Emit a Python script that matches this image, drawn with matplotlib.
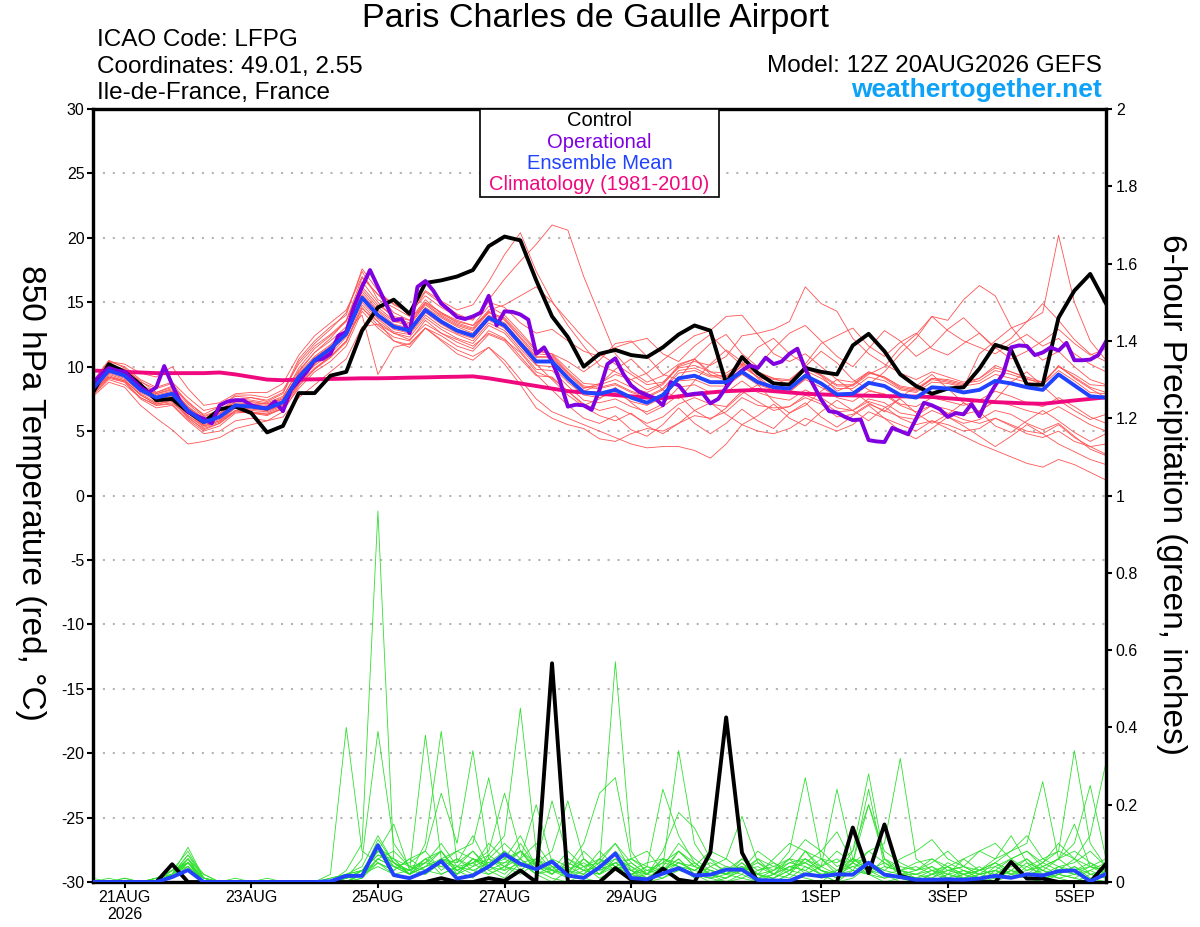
import matplotlib
matplotlib.use("Agg")
import matplotlib.pyplot as plt
from matplotlib.patches import Rectangle
import numpy as np

plt.rcParams['font.family'] = ['Liberation Sans', 'DejaVu Sans']

# forecast starts 12Z 20AUG2026, ensemble every 6 h, operational every 3 h
tick_hours = [12, 60, 108, 156, 204, 276, 324, 372]
tick_labels = ['21AUG\n2026', '23AUG', '25AUG', '27AUG', '29AUG', '1SEP', '3SEP', '5SEP']
temp_ticks = list(range(-30, 31, 5))
prcp_ticks = [0, 0.2, 0.4, 0.6, 0.8, 1, 1.2, 1.4, 1.6, 1.8, 2]
prcp_labels = ['0', '0.2', '0.4', '0.6', '0.8', '1', '1.2', '1.4', '1.6', '1.8', '2']

# 850 hPa temperature (C)
ctrl_temp = [8.0, 10.2, 9.6, 8.6, 7.4, 7.5, 6.5, 5.7, 6.7, 6.9,
             6.4, 4.9, 5.4, 7.95, 7.95, 9.3, 9.6, 12.8, 14.6, 15.2,
             14.1, 16.5, 16.7, 17.0, 17.5, 19.35, 20.1, 19.8, 16.7, 13.9,
             12.3, 10.0, 11.0, 11.3, 10.9, 10.75, 11.5, 12.5, 13.2, 12.8,
             8.7, 10.75, 9.5, 8.7, 8.6, 9.9, 9.6, 9.4, 11.65, 12.55,
             11.2, 9.4, 8.5, 7.9, 8.3, 8.4, 9.85, 11.7, 11.3, 8.6,
             8.6, 13.8, 15.9, 17.2, 14.9]

mean_temp = [8.3, 9.7, 9.3, 8.2, 7.6, 7.9, 6.6, 5.7, 6.1, 7.0,
             6.9, 6.75, 7.25, 9.2, 10.5, 11.4, 12.55, 15.35, 14.0, 13.1,
             12.8, 14.4, 13.5, 12.8, 12.4, 13.8, 13.2, 11.8, 10.4, 10.4,
             9.1, 8.0, 7.9, 8.2, 7.6, 7.2, 7.8, 9.1, 9.3, 8.8,
             8.8, 9.6, 8.8, 8.4, 8.3, 9.3, 8.7, 7.85, 7.9, 8.75,
             8.5, 7.8, 7.6, 8.4, 8.3, 8.0, 8.2, 8.9, 8.7, 8.4,
             8.2, 9.4, 8.55, 7.7, 7.6]

clim_temp = [9.7, 9.65, 9.6, 9.55, 9.5, 9.5, 9.5, 9.5, 9.55, 9.4,
             9.2, 9.0, 8.95, 9.0, 9.02, 9.05, 9.07, 9.1, 9.1, 9.12,
             9.15, 9.17, 9.2, 9.22, 9.25, 9.1, 8.9, 8.7, 8.5, 8.3,
             8.1, 8.0, 7.9, 7.8, 7.7, 7.6, 7.55, 7.7, 7.85, 8.0,
             8.1, 8.15, 8.2, 8.1, 8.0, 7.9, 7.85, 7.8, 7.77, 7.75,
             7.72, 7.7, 7.68, 7.65, 7.55, 7.45, 7.35, 7.25, 7.2, 7.15,
             7.12, 7.25, 7.38, 7.5, 7.62]

oper_temp = [8.7, 9.4, 9.9, 9.7, 9.6, 9.0, 8.4, 8.0, 8.4, 10.05,
             8.6, 7.3, 6.5, 6.2, 5.95, 5.6, 7.0, 7.3, 7.4, 7.4,
             7.0, 6.85, 6.75, 7.3, 6.55, 8.2, 8.9, 9.6, 10.5, 10.6,
             11.0, 12.4, 12.7, 14.7, 16.2, 17.5, 16.2, 14.9, 13.6, 13.7,
             12.6, 16.2, 16.65, 15.9, 14.9, 14.4, 13.85, 13.7, 13.9, 14.2,
             15.5, 13.2, 14.3, 14.25, 14.05, 13.65, 11.0, 11.5, 10.4, 8.9,
             6.9, 7.05, 7.0, 6.65, 8.2, 10.2, 10.65, 9.45, 8.55, 8.05,
             7.8, 7.55, 7.0, 8.8, 8.55, 7.8, 7.9, 7.95, 7.15, 7.5,
             8.4, 9.2, 9.7, 10.1, 9.9, 10.7, 10.2, 10.4, 11.0, 11.4,
             9.8, 8.6, 7.45, 6.55, 6.45, 6.1, 5.85, 5.9, 4.3, 4.2,
             4.15, 5.25, 5.0, 4.75, 5.95, 7.2, 7.0, 6.7, 6.1, 6.4,
             6.3, 7.1, 6.15, 7.5, 8.55, 9.45, 11.5, 11.65, 11.6, 10.9,
             11.1, 11.5, 11.25, 11.85, 10.5, 10.5, 10.55, 10.9, 11.95]

member_temp = [
    [8.6, 10.2, 9.8, 8.9, 8.0, 8.4, 7.3, 6.2, 6.6, 7.4, 7.6, 7.3, 7.9,
     10.4, 11.8, 12.9, 14.2, 17.4, 15.2, 14.6, 13.9, 15.8, 14.9, 14.1, 13.6, 15.2,
     16.8, 18.2, 19.5, 21.0, 20.6, 17.0, 14.0, 11.0, 9.6, 8.8, 9.3, 10.2, 10.6,
     9.4, 8.9, 10.1, 9.2, 8.3, 8.0, 9.1, 8.7, 7.6, 7.3, 8.1, 7.9, 7.1,
     6.9, 7.6, 7.3, 7.0, 7.4, 8.1, 7.7, 7.2, 6.9, 7.6, 6.9, 6.1, 5.6],
    [7.9, 9.4, 9.0, 7.8, 7.1, 7.3, 6.1, 5.1, 5.6, 6.6, 6.8, 6.6, 7.1,
     9.6, 11.1, 12.2, 13.6, 16.9, 15.6, 14.9, 14.2, 15.9, 15.1, 14.4, 14.8, 16.6,
     18.7, 20.4, 17.4, 15.1, 13.2, 11.6, 10.1, 9.6, 9.0, 8.2, 8.7, 10.1, 10.6,
     9.6, 9.1, 10.6, 9.6, 9.1, 8.6, 10.1, 9.3, 8.1, 8.6, 9.6, 9.1, 8.3,
     8.1, 9.1, 8.9, 8.6, 9.1, 10.1, 9.6, 9.1, 8.6, 10.1, 9.1, 8.3, 7.6],
    [7.7, 8.8, 8.4, 7.0, 6.0, 5.1, 4.0, 4.2, 4.5, 5.2, 5.5, 5.8, 6.1,
     7.6, 8.6, 9.6, 10.6, 13.1, 13.3, 12.6, 12.1, 13.3, 12.6, 12.1, 11.6, 12.6,
     12.1, 11.1, 9.6, 9.1, 8.1, 7.1, 6.6, 6.9, 6.3, 5.6, 6.1, 7.1, 7.6,
     7.1, 6.9, 8.1, 7.3, 6.6, 6.9, 7.6, 7.1, 6.1, 6.3, 7.1, 6.6, 6.1,
     5.9, 6.6, 6.1, 5.6, 5.9, 6.6, 6.3, 5.6, 5.1, 5.6, 4.6, 3.6, 3.1],
    [8.2, 9.2, 8.8, 7.5, 6.8, 7.0, 5.8, 4.8, 5.0, 5.8, 6.0, 5.8, 6.5,
     8.5, 9.8, 10.8, 12.0, 14.5, 13.5, 12.0, 11.5, 13.0, 12.0, 11.0, 10.5, 11.5,
     10.5, 9.0, 7.5, 6.5, 6.0, 5.5, 5.0, 4.5, 4.0, 3.7, 3.8, 3.8, 3.5,
     2.9, 4.0, 5.5, 5.0, 4.8, 5.2, 6.0, 5.5, 5.0, 5.5, 6.5, 6.0, 5.5,
     5.0, 5.8, 5.5, 5.0, 5.2, 6.0, 5.5, 5.0, 4.8, 5.5, 4.5, 3.8, 3.2],
    [8.4, 9.9, 9.5, 8.4, 7.8, 8.1, 6.9, 5.9, 6.3, 7.2, 7.1, 7.0, 7.5,
     9.5, 10.8, 11.7, 12.9, 15.8, 14.4, 13.5, 13.2, 14.8, 13.9, 13.2, 12.8, 14.2,
     13.6, 12.2, 10.8, 10.8, 9.5, 8.4, 8.3, 8.6, 8.0, 7.6, 8.2, 9.5, 9.7,
     9.2, 9.2, 10.0, 9.2, 8.8, 8.7, 9.7, 9.1, 8.3, 8.3, 9.2, 8.9, 8.2,
     8.0, 8.8, 8.7, 8.4, 11.0, 12.0, 13.0, 13.5, 14.2, 20.2, 15.0, 12.0, 10.5],
    [8.8, 10.4, 10.0, 9.0, 8.4, 8.8, 7.6, 6.6, 6.9, 7.8, 7.8, 7.6, 8.2,
     10.2, 11.6, 12.5, 13.6, 16.2, 14.8, 13.9, 13.6, 15.2, 14.1, 13.5, 13.2, 14.7,
     14.0, 12.7, 11.3, 11.0, 9.8, 8.7, 8.6, 9.0, 8.4, 8.0, 8.6, 10.0, 10.4,
     10.1, 10.8, 12.4, 12.6, 12.9, 13.5, 16.2, 14.9, 14.3, 12.2, 11.0, 10.2, 9.5,
     9.0, 9.6, 9.2, 8.8, 9.1, 9.9, 9.6, 9.2, 8.8, 10.0, 9.2, 8.4, 8.0],
    [8.0, 9.6, 9.3, 8.3, 7.5, 7.7, 6.4, 5.5, 5.9, 6.8, 6.7, 6.6, 7.0,
     8.9, 10.1, 11.0, 12.3, 15.0, 13.7, 12.7, 12.5, 14.0, 13.1, 12.5, 12.0, 13.4,
     12.8, 11.4, 10.1, 10.0, 8.8, 7.8, 7.6, 8.0, 7.3, 7.0, 7.6, 8.9, 9.0,
     8.5, 8.5, 9.4, 8.6, 8.2, 8.1, 9.0, 8.4, 7.7, 7.7, 8.6, 9.6, 11.0,
     12.2, 13.9, 13.6, 15.2, 16.3, 15.5, 13.1, 11.6, 10.5, 11.2, 10.0, 9.0, 8.6],
    [8.0, 9.3, 8.9, 7.9, 7.2, 7.5, 6.2, 5.3, 5.7, 6.6, 6.4, 6.3, 6.8,
     8.7, 9.9, 10.8, 12.0, 14.8, 13.5, 12.6, 12.3, 13.8, 12.9, 12.2, 11.8, 13.2,
     12.6, 11.2, 9.8, 9.7, 8.5, 7.4, 7.2, 7.5, 6.9, 6.5, 7.1, 8.4, 8.6,
     8.0, 8.0, 8.9, 8.0, 7.6, 7.4, 8.2, 7.6, 6.8, 6.6, 7.3, 6.9, 6.0,
     5.5, 5.8, 5.2, 4.6, 4.0, 3.5, 3.0, 2.5, 2.2, 2.8, 2.4, 1.8, 1.2],
    [8.5, 9.9, 9.4, 8.4, 7.9, 8.2, 6.8, 5.9, 6.4, 7.3, 7.2, 7.1, 7.5,
     9.4, 10.7, 11.6, 12.8, 15.6, 14.3, 13.3, 13.0, 14.6, 13.8, 13.1, 12.6, 14.0,
     13.4, 12.0, 10.7, 10.7, 9.4, 8.3, 8.7, 9.4, 9.0, 9.5, 10.5, 11.5, 12.4,
     12.8, 13.9, 14.0, 12.5, 11.0, 10.4, 11.0, 10.0, 9.0, 8.8, 9.6, 9.2, 8.4,
     8.2, 9.0, 8.8, 8.5, 8.7, 9.4, 9.1, 8.8, 8.6, 9.7, 8.9, 8.0, 7.9],
    [7.9, 9.1, 8.8, 7.6, 7.0, 7.1, 5.9, 5.0, 5.4, 6.4, 6.5, 6.3, 6.7,
     8.3, 9.6, 10.4, 11.6, 14.3, 13.0, 12.0, 11.7, 13.0, 12.1, 11.3, 10.8, 11.5,
     10.2, 8.6, 6.8, 6.0, 5.5, 5.2, 4.4, 4.2, 4.8, 5.2, 5.0, 5.6, 6.2,
     6.0, 6.5, 7.6, 7.0, 6.8, 6.9, 7.8, 7.3, 6.5, 6.6, 7.5, 7.2, 6.4,
     6.2, 7.0, 6.7, 6.3, 6.6, 7.3, 7.0, 6.6, 6.3, 6.9, 6.2, 5.5, 5.0],
    [8.9, 10.5, 9.9, 8.8, 8.3, 8.7, 7.2, 6.3, 6.9, 7.7, 7.6, 7.4, 8.0,
     10.6, 12.0, 13.1, 14.0, 17.6, 15.9, 14.8, 14.2, 15.5, 14.6, 13.9, 13.7, 15.0,
     14.6, 13.4, 12.6, 12.9, 12.0, 11.2, 10.8, 11.5, 11.9, 12.2, 11.0, 10.4, 11.6,
     12.5, 11.2, 10.1, 11.5, 12.2, 11.0, 10.2, 11.8, 12.4, 13.0, 11.6, 10.8, 11.9,
     12.6, 11.4, 10.9, 11.8, 12.6, 11.5, 10.6, 11.2, 12.0, 12.9, 11.8, 10.9, 11.4],
    [8.1, 9.5, 9.1, 8.0, 7.4, 7.6, 6.4, 5.4, 5.8, 6.8, 6.6, 6.5, 7.0,
     9.0, 10.3, 11.2, 12.5, 15.2, 13.8, 12.9, 12.6, 14.2, 13.3, 12.6, 12.2, 13.6,
     13.0, 11.6, 10.2, 9.0, 7.8, 6.9, 6.2, 5.8, 6.4, 5.4, 4.8, 5.6, 6.6,
     7.2, 6.3, 5.5, 6.2, 7.1, 6.0, 5.4, 6.5, 7.4, 6.6, 5.8, 6.8, 7.5,
     6.4, 5.6, 6.3, 7.2, 6.5, 5.4, 4.9, 5.8, 6.6, 5.8, 4.9, 4.2, 4.8],
    [8.3, 9.8, 9.4, 8.3, 7.7, 8.0, 6.7, 5.8, 6.2, 7.1, 7.0, 6.9, 7.4,
     9.3, 10.6, 11.5, 12.7, 15.5, 14.1, 13.2, 12.9, 14.5, 13.6, 12.9, 12.5, 13.9,
     13.3, 11.9, 10.5, 10.5, 9.2, 8.1, 8.6, 9.8, 10.6, 9.4, 8.2, 7.5, 8.9,
     10.2, 11.3, 10.4, 9.1, 8.0, 8.8, 10.0, 11.2, 10.3, 9.0, 8.2, 7.8, 7.0,
     6.5, 7.0, 6.4, 5.9, 5.6, 6.0, 5.4, 4.8, 4.5, 5.0, 4.2, 3.8, 4.0],
    [8.5, 9.9, 9.6, 8.5, 7.9, 8.3, 6.9, 6.0, 6.4, 7.3, 7.3, 7.1, 7.6,
     9.9, 11.4, 12.4, 13.5, 16.6, 15.0, 13.8, 13.4, 15.0, 14.2, 13.4, 13.0, 14.4,
     14.8, 15.5, 16.2, 15.0, 13.6, 12.2, 11.0, 10.2, 9.4, 8.6, 8.8, 9.9, 10.1,
     9.6, 9.5, 10.3, 9.5, 9.1, 9.0, 10.0, 9.4, 8.6, 8.6, 9.5, 9.2, 8.5,
     8.3, 9.1, 9.0, 8.7, 8.9, 9.7, 9.4, 9.0, 8.8, 10.0, 9.4, 8.6, 8.5],
    [8.0, 9.2, 8.9, 7.8, 7.1, 7.4, 6.0, 5.2, 5.6, 6.5, 6.4, 6.2, 6.8,
     8.6, 9.8, 10.7, 11.9, 14.6, 13.2, 12.3, 12.0, 13.6, 12.6, 11.9, 11.4, 12.8,
     12.2, 10.8, 9.4, 8.2, 7.0, 6.0, 5.6, 6.2, 5.1, 4.6, 5.5, 6.8, 5.6,
     4.8, 5.6, 6.7, 5.8, 5.2, 6.4, 7.2, 6.1, 5.3, 6.2, 7.0, 6.0, 5.0,
     4.4, 5.2, 6.1, 5.4, 4.6, 3.8, 4.6, 5.5, 4.8, 4.0, 3.4, 2.8, 2.4],
    [8.7, 10.1, 9.7, 8.6, 8.0, 8.5, 7.1, 6.1, 6.6, 7.5, 7.4, 7.2, 7.7,
     9.7, 11.1, 12.0, 13.1, 16.0, 14.6, 13.6, 13.3, 14.9, 14.0, 13.3, 12.9, 14.3,
     13.7, 12.3, 11.0, 10.9, 9.6, 8.5, 8.4, 8.7, 8.1, 7.7, 8.3, 9.7, 9.9,
     9.3, 9.3, 10.2, 9.4, 9.0, 8.9, 9.9, 9.3, 8.5, 8.5, 9.4, 10.0, 11.5,
     12.5, 13.9, 12.8, 12.0, 11.5, 11.0, 11.8, 12.5, 11.6, 12.2, 11.0, 10.2, 9.6],
    [8.8, 10.4, 10.2, 9.5, 9.2, 10.0, 8.3, 7.0, 7.2, 7.9, 8.0, 8.0, 8.7,
     10.9, 12.4, 13.4, 14.4, 17.0, 15.6, 14.2, 13.6, 15.0, 14.2, 13.6, 13.2, 14.2,
     13.8, 12.5, 11.2, 11.0, 10.4, 9.6, 10.5, 11.8, 12.0, 10.8, 9.4, 9.0, 10.6,
     11.8, 12.5, 11.0, 10.0, 11.4, 12.6, 13.2, 12.0, 10.8, 10.0, 11.4, 12.8, 12.0,
     10.8, 11.6, 12.9, 13.8, 12.6, 11.4, 12.2, 13.5, 14.9, 13.6, 12.1, 11.0, 10.4],
    [7.8, 9.0, 8.6, 7.6, 7.0, 7.2, 6.2, 5.4, 5.8, 6.6, 6.4, 6.4, 6.9,
     8.8, 10.2, 11.3, 12.8, 14.0, 9.4, 11.5, 11.8, 13.0, 12.4, 11.6, 11.2, 12.5,
     12.0, 10.6, 9.3, 9.2, 8.1, 7.0, 7.5, 8.4, 7.2, 6.3, 6.9, 7.8, 6.6,
     5.9, 6.8, 7.9, 8.6, 7.3, 6.4, 7.0, 8.1, 9.0, 8.1, 7.2, 6.5, 7.6,
     8.5, 9.4, 8.3, 7.2, 6.5, 7.4, 8.8, 9.6, 8.5, 7.4, 6.6, 5.9, 6.3],
]

# 6-hour precipitation (inches)
ctrl_prcp = [0, 0, 0, 0, 0, 0.046, 0, 0, 0, 0,
             0, 0, 0, 0, 0, 0, 0, 0, 0, 0,
             0, 0, 0.01, 0, 0, 0.01, 0.003, 0.03, 0, 0.566,
             0, 0, 0, 0.036, 0.006, 0, 0.035, 0.006, 0, 0.076,
             0.426, 0.076, 0, 0, 0, 0, 0, 0, 0.141, 0.023,
             0.149, 0.016, 0.004, 0, 0, 0, 0, 0, 0.052, 0.009,
             0.009, 0, 0, 0, 0.047]

mean_prcp = [0, 0, 0, 0, 0, 0.013, 0.031, 0, 0, 0,
             0, 0, 0, 0, 0, 0.002, 0.016, 0.016, 0.095, 0.018,
             0.01, 0.027, 0.054, 0.009, 0.017, 0.04, 0.072, 0.047, 0.033, 0.053,
             0.017, 0.0105, 0.038, 0.074, 0.0105, 0.007, 0.022, 0.036, 0.017, 0.019,
             0.032, 0.032, 0.005, 0.004, 0.003, 0.02, 0.015, 0.02, 0.019, 0.05,
             0.019, 0.013, 0.006, 0.006, 0.007, 0.006, 0.009, 0.016, 0.011, 0.02,
             0.017, 0.028, 0.03, 0.002, 0.021]

# ensemble members, hundredths of an inch
member_prcp_hundredths = [
    [0, 0, 0, 0, 1, 3, 4, 1, 0, 0, 0, 0, 0,
     0, 0, 2, 40, 8, 5, 2, 3, 6, 2, 4, 8, 3,
     1, 5, 2, 0, 3, 1, 0, 4, 2, 0, 3, 6, 2,
     1, 0, 2, 0, 1, 3, 5, 2, 0, 1, 4, 2, 0,
     0, 1, 0, 2, 0, 1, 3, 1, 0, 2, 4, 1, 0],
    [1, 0, 0, 0, 0, 2, 6, 0, 0, 0, 0, 0, 0,
     0, 0, 0, 3, 10, 96, 6, 2, 4, 8, 3, 1, 6,
     4, 8, 3, 1, 0, 2, 5, 10, 3, 0, 1, 4, 2,
     0, 1, 4, 2, 0, 2, 8, 3, 1, 5, 3, 1, 2,
     1, 0, 2, 1, 3, 5, 2, 1, 0, 3, 6, 2, 1],
    [0, 0, 1, 0, 0, 1, 5, 1, 0, 0, 0, 0, 0,
     0, 0, 0, 1, 6, 39, 10, 4, 2, 5, 2, 6, 4,
     2, 6, 10, 4, 1, 3, 2, 6, 4, 1, 2, 8, 4,
     2, 1, 3, 6, 2, 1, 4, 2, 0, 3, 2, 0, 1,
     0, 2, 1, 0, 2, 3, 1, 4, 2, 1, 0, 2, 3],
    [0, 0, 0, 0, 0, 2, 7, 2, 0, 0, 0, 0, 0,
     0, 0, 0, 0, 3, 8, 15, 3, 5, 10, 4, 2, 7,
     12, 45, 8, 3, 2, 1, 4, 3, 1, 2, 6, 4, 1,
     3, 2, 1, 0, 2, 4, 3, 1, 2, 6, 3, 2, 1,
     0, 1, 3, 2, 1, 2, 4, 6, 3, 2, 1, 3, 5],
    [0, 1, 0, 0, 0, 3, 5, 0, 0, 1, 0, 0, 0,
     0, 0, 1, 2, 4, 12, 5, 3, 38, 6, 3, 5, 2,
     4, 3, 6, 2, 5, 3, 4, 57, 8, 2, 1, 3, 5,
     2, 0, 1, 3, 5, 2, 1, 0, 3, 4, 2, 6, 2,
     1, 0, 2, 3, 1, 0, 2, 1, 4, 2, 1, 0, 3],
    [0, 0, 0, 0, 1, 2, 9, 1, 0, 0, 0, 0, 0,
     0, 0, 0, 1, 2, 6, 4, 2, 10, 39, 5, 12, 4,
     8, 5, 2, 4, 3, 6, 2, 5, 3, 1, 4, 34, 10,
     4, 2, 5, 1, 0, 2, 6, 3, 1, 2, 5, 2, 1,
     0, 2, 4, 1, 0, 3, 2, 5, 1, 2, 4, 2, 1],
    [0, 0, 0, 0, 0, 1, 4, 0, 0, 0, 0, 0, 0,
     0, 0, 0, 0, 1, 5, 3, 6, 8, 23, 10, 34, 6,
     3, 10, 4, 2, 5, 3, 8, 4, 2, 1, 3, 6, 2,
     1, 3, 6, 2, 1, 4, 3, 6, 2, 5, 8, 10, 32,
     6, 3, 1, 2, 4, 1, 3, 2, 0, 4, 2, 1, 0],
    [0, 0, 0, 0, 0, 2, 6, 1, 0, 0, 0, 0, 0,
     0, 0, 0, 1, 2, 8, 5, 2, 4, 6, 8, 10, 27,
     6, 12, 4, 3, 1, 6, 3, 5, 2, 4, 3, 8, 5,
     2, 1, 3, 4, 2, 6, 5, 3, 2, 8, 28, 6, 3,
     2, 4, 1, 3, 2, 5, 3, 6, 2, 4, 3, 5, 2],
    [0, 0, 0, 0, 0, 1, 5, 0, 0, 0, 0, 1, 0,
     0, 0, 0, 0, 2, 10, 4, 3, 6, 4, 3, 5, 8,
     23, 8, 5, 21, 6, 3, 2, 8, 4, 2, 5, 4, 3,
     6, 2, 4, 1, 3, 8, 27, 6, 3, 5, 2, 4, 3,
     1, 2, 3, 4, 2, 1, 3, 2, 5, 3, 2, 4, 6],
    [0, 0, 0, 0, 0, 3, 8, 1, 0, 0, 0, 0, 0,
     0, 0, 0, 2, 3, 7, 6, 4, 5, 8, 2, 4, 6,
     10, 6, 20, 5, 3, 2, 6, 4, 3, 2, 4, 10, 6,
     3, 2, 5, 2, 6, 10, 8, 4, 24, 6, 3, 5, 2,
     3, 6, 4, 2, 3, 5, 8, 10, 26, 6, 3, 4, 2],
    [0, 0, 0, 0, 1, 2, 5, 0, 0, 0, 0, 0, 0,
     0, 0, 0, 0, 2, 5, 3, 6, 3, 5, 8, 6, 4,
     6, 4, 5, 8, 21, 6, 3, 5, 6, 4, 24, 12, 5,
     2, 4, 3, 1, 2, 5, 4, 2, 3, 6, 4, 2, 3,
     2, 1, 4, 6, 3, 2, 5, 4, 6, 8, 34, 10, 4],
    [0, 0, 0, 0, 0, 2, 7, 1, 0, 0, 0, 0, 0,
     0, 0, 0, 1, 3, 9, 6, 2, 5, 4, 6, 3, 5,
     5, 8, 3, 6, 4, 10, 23, 27, 6, 3, 2, 5, 4,
     8, 6, 17, 5, 3, 6, 2, 4, 6, 3, 8, 5, 3,
     4, 2, 5, 3, 1, 4, 6, 3, 5, 8, 6, 12, 31],
    [0, 0, 0, 0, 0, 1, 6, 2, 0, 0, 0, 0, 0,
     0, 0, 0, 0, 1, 6, 8, 4, 3, 6, 5, 8, 4,
     3, 5, 6, 3, 8, 4, 6, 10, 5, 2, 8, 18, 14,
     6, 4, 3, 8, 5, 3, 6, 4, 8, 5, 20, 6, 4,
     3, 5, 8, 4, 2, 3, 6, 8, 4, 6, 10, 25, 6],
    [0, 0, 0, 0, 0, 2, 5, 1, 0, 0, 0, 0, 0,
     0, 0, 0, 0, 2, 11, 5, 3, 2, 6, 4, 5, 7,
     4, 6, 3, 5, 2, 8, 4, 6, 2, 3, 5, 8, 4,
     3, 2, 6, 3, 4, 6, 11, 8, 13, 5, 24, 4, 3,
     5, 6, 3, 4, 8, 6, 12, 5, 3, 6, 15, 4, 3],
    [0, 0, 1, 0, 0, 2, 6, 0, 0, 0, 0, 0, 0,
     0, 0, 0, 1, 3, 8, 4, 5, 8, 3, 6, 4, 10,
     6, 8, 4, 2, 6, 4, 5, 7, 3, 5, 6, 4, 2,
     4, 6, 3, 5, 2, 4, 5, 8, 4, 6, 5, 3, 6,
     8, 11, 6, 4, 3, 6, 8, 12, 6, 4, 5, 8, 4],
    [0, 0, 0, 0, 1, 3, 5, 1, 0, 0, 0, 0, 0,
     0, 0, 0, 0, 2, 6, 4, 2, 6, 8, 3, 6, 5,
     8, 3, 6, 4, 3, 5, 2, 4, 6, 8, 3, 5, 3,
     5, 3, 2, 6, 4, 3, 8, 6, 5, 8, 20, 8, 5,
     3, 4, 2, 6, 8, 10, 6, 8, 5, 10, 6, 4, 3],
    [0, 0, 0, 0, 0, 1, 3, 1, 0, 0, 0, 0, 0,
     0, 0, 0, 1, 2, 4, 2, 1, 3, 2, 4, 3, 2,
     4, 2, 5, 3, 2, 4, 1, 3, 2, 4, 2, 3, 2,
     1, 2, 3, 2, 1, 3, 2, 4, 2, 3, 2, 1, 2,
     1, 3, 2, 1, 2, 3, 1, 2, 3, 1, 2, 3, 1],
    [0, 0, 0, 0, 0, 2, 4, 0, 0, 0, 0, 0, 0,
     0, 0, 1, 2, 3, 7, 5, 2, 4, 5, 2, 6, 3,
     5, 6, 2, 3, 4, 2, 6, 3, 5, 2, 6, 5, 3,
     2, 3, 4, 2, 3, 5, 6, 3, 2, 4, 5, 3, 2,
     2, 3, 4, 2, 3, 4, 2, 3, 4, 6, 8, 5, 3],
]

hours = np.arange(len(ctrl_temp)) * 6
oper_hours = np.arange(len(oper_temp)) * 3

red = '#ff5252'
green = '#2fe02f'
purple = '#8000e0'
blue = '#2142ff'
pink = '#f0087f'
lw_main = 2.8

fig = plt.figure(figsize=(12, 9.27), dpi=100)
ax = fig.add_axes([0.0775, 0.0485, 0.8442, 0.8339])
ax.set_xlim(0, 384)
ax.set_ylim(-30, 30)

for m in member_temp:
    ax.plot(hours, m, color=red, lw=0.6, zorder=2)
ax.plot(hours, clim_temp, color=pink, lw=lw_main, zorder=3)
ax.plot(hours, ctrl_temp, color='black', lw=lw_main, zorder=4)
ax.plot(oper_hours, oper_temp, color=purple, lw=lw_main, zorder=5)
ax.plot(hours, mean_temp, color=blue, lw=lw_main, zorder=6)

ax.set_yticks(temp_ticks)
ax.set_yticklabels([str(t) for t in temp_ticks], fontsize=11.5)
ax.set_xticks(tick_hours)
ax.set_xticklabels(tick_labels, fontsize=11.5, linespacing=1.15)
ax.tick_params(axis='y', direction='out', length=4, width=1.5, pad=2)
ax.tick_params(axis='x', direction='out', length=4, width=1.5, pad=2)
ax.yaxis.grid(True, color='#b4b4b4', linestyle=(0, (1, 3.75)), linewidth=1.5)
ax.set_axisbelow(True)

ax2 = ax.twinx()
ax2.set_ylim(0, 2)
for m in member_prcp_hundredths:
    ax2.plot(hours, np.array(m) / 100.0, color=green, lw=0.6, zorder=2)
ax2.plot(hours, ctrl_prcp, color='black', lw=lw_main, zorder=4)
ax2.plot(hours, mean_prcp, color=blue, lw=lw_main, zorder=5)
ax2.set_yticks(prcp_ticks)
ax2.set_yticklabels(prcp_labels, fontsize=11.5)
ax2.tick_params(axis='y', direction='out', length=4, width=1.5, pad=3)

for a in (ax, ax2):
    for s in a.spines.values():
        s.set_linewidth(2.3)

# legend box
box = Rectangle((0.382, 0.886), 0.236, 0.114, transform=ax2.transAxes,
                facecolor='white', edgecolor='black', lw=1.2, zorder=10)
ax2.add_patch(box)
legend_items = [('Control', 'black'), ('Operational', purple),
                ('Ensemble Mean', blue), ('Climatology (1981-2010)', pink)]
for k, (name, col) in enumerate(legend_items):
    ax2.text(0.5, 0.9845 - k * 0.0275, name, color=col, fontsize=14.5,
             ha='center', va='center', transform=ax2.transAxes, zorder=11)

# header
def px(x, y):
    return x / 1200, 1 - y / 927

fig.text(*px(596, 18), 'Paris Charles de Gaulle Airport', fontsize=24.5,
         ha='center', va='center')
fig.text(*px(97, 40), 'ICAO Code: LFPG', fontsize=17.5, ha='left', va='center')
fig.text(*px(97, 67), 'Coordinates: 49.01, 2.55', fontsize=17.5, ha='left', va='center')
fig.text(*px(97, 93), 'Ile-de-France, France', fontsize=17.5, ha='left', va='center')
fig.text(*px(1102, 66), 'Model: 12Z 20AUG2026 GEFS', fontsize=17.5, ha='right', va='center')
fig.text(*px(1102, 90), 'weathertogether.net', fontsize=19, fontweight='bold',
         color='#0da2f7', ha='right', va='center')

fig.text(*px(30, 493), '850 hPa Temperature (red, °C)', fontsize=24,
         rotation=-90, ha='center', va='center')
fig.text(*px(1172, 495), '6-hour Precipitation (green, inches)', fontsize=24,
         rotation=-90, ha='center', va='center')

fig.savefig('out.png', dpi=100)
